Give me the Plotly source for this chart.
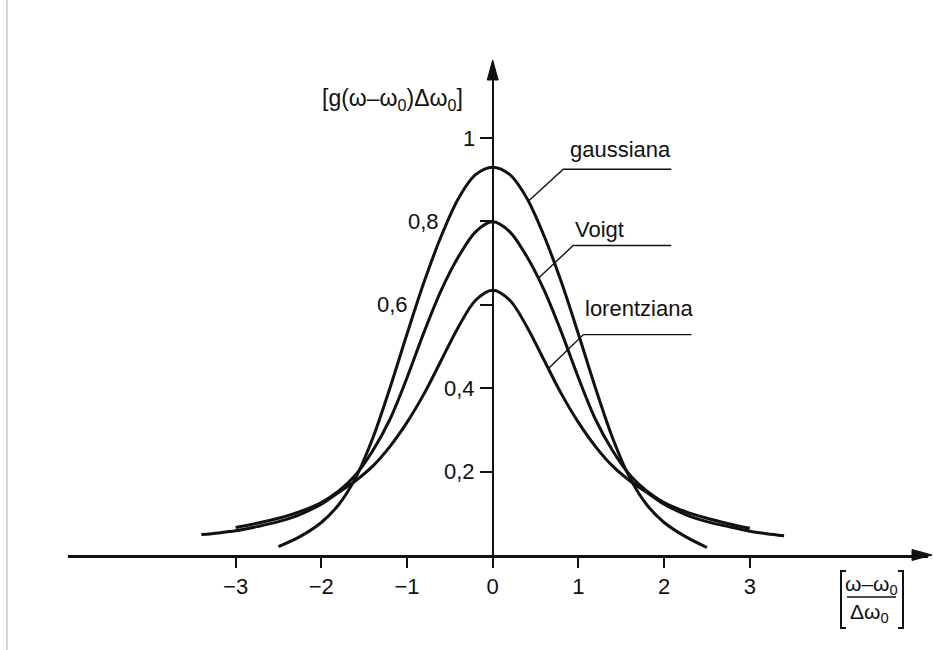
import numpy as np
import plotly.graph_objects as go

# ---------------- data ----------------
x_gauss = [-2.5, -2.25, -2.0, -1.8, -1.6, -1.4, -1.2, -1.0, -0.8, -0.6, -0.4, -0.2, 0.0,
           0.2, 0.4, 0.6, 0.8, 1.0, 1.2, 1.4, 1.6, 1.8, 2.0, 2.25, 2.5]
y_gauss = [0.020, 0.044, 0.078, 0.120, 0.185, 0.280, 0.400, 0.530, 0.655, 0.765, 0.855, 0.912, 0.930,
           0.912, 0.855, 0.765, 0.655, 0.530, 0.400, 0.280, 0.185, 0.120, 0.078, 0.044, 0.018]

x_voigt = [-3.0, -2.75, -2.5, -2.25, -2.0, -1.8, -1.6, -1.4, -1.2, -1.0, -0.8, -0.6, -0.4, -0.2, 0.0,
           0.2, 0.4, 0.6, 0.8, 1.0, 1.2, 1.4, 1.6, 1.8, 2.0, 2.25, 2.5, 2.75, 3.0]
y_voigt = [0.066, 0.076, 0.088, 0.104, 0.126, 0.153, 0.192, 0.250, 0.325, 0.425, 0.535, 0.635, 0.715, 0.775, 0.799,
           0.775, 0.715, 0.635, 0.535, 0.425, 0.325, 0.250, 0.192, 0.153, 0.126, 0.104, 0.088, 0.075, 0.064]

x_lor = [-3.4, -3.2, -3.0, -2.75, -2.5, -2.25, -2.0, -1.8, -1.6, -1.4, -1.2, -1.0, -0.8, -0.6, -0.4, -0.2, 0.0,
         0.2, 0.4, 0.6, 0.8, 1.0, 1.2, 1.4, 1.6, 1.8, 2.0, 2.25, 2.5, 2.75, 3.0, 3.2, 3.4]
y_lor = [0.049, 0.053, 0.058, 0.068, 0.080, 0.097, 0.122, 0.150, 0.178, 0.213, 0.260, 0.318, 0.387, 0.467, 0.547, 0.611, 0.635,
         0.611, 0.547, 0.467, 0.387, 0.318, 0.260, 0.213, 0.178, 0.150, 0.122, 0.097, 0.080, 0.068, 0.057, 0.051, 0.046]

curve_names = ["gaussiana", "Voigt", "lorentziana"]
label_at_x = [0.415, 0.53, 0.65]          # where each leader touches its curve

x_tick_vals = [-3, -2, -1, 0, 1, 2, 3]
x_tick_text = ["\u22123", "\u22122", "\u22121", "0", "1", "2", "3"]
y_tick_vals = [0.2, 0.4, 0.6, 0.8, 1.0]
y_tick_text = ["0,2", "0,4", "0,6", "0,8", "1"]

# ---------------- layout geometry ----------------
W, H = 933, 650
L, R, T, B = 68, 5, 62, 95          # plot area: x 68..928, y 62..555
PW, PH = W - L - R, H - T - B
X0PIX = 492.7                        # pixel of x = 0
XSCALE = 85.7                        # pixels per x unit
YSCALE = 417.0                       # pixels per y unit
xmin = -(X0PIX - L) / XSCALE
xmax = (W - R - X0PIX) / XSCALE
ymax = PH / YSCALE

INK = "#111111"
FONT = "Liberation Sans, Arial, Helvetica, sans-serif"


def pxp(px):   # pixel x -> paper x
    return (px - L) / PW


def pyp(py):   # pixel y -> paper y
    return (H - B - py) / PH


def d2pix(x, y):
    return X0PIX + x * XSCALE, (H - B) - y * YSCALE


def ppath(points, close=False):
    s = "M " + " L ".join(f"{pxp(a)},{pyp(b)}" for a, b in points)
    return s + (" Z" if close else "")


fig = go.Figure()
for xs, ys in [(x_gauss, y_gauss), (x_voigt, y_voigt), (x_lor, y_lor)]:
    fig.add_trace(go.Scatter(x=xs, y=ys, mode="lines",
                             line=dict(color=INK, width=3, shape="spline", smoothing=0.9),
                             hoverinfo="skip", showlegend=False))

shapes = []
annotations = []

# curve labels with leader lines
series = [(x_gauss, y_gauss), (x_voigt, y_voigt), (x_lor, y_lor)]
kinks = [(35, -32, 108), (35, -33, 98), (35, -34, 108)]
text_centers = [(620, 149), (599, 229), (638.5, 308)]
for (xs, ys), name, xa, (dx, dy, hl), (tx, ty) in zip(series, curve_names, label_at_x, kinks, text_centers):
    ya = float(np.interp(xa, xs, ys))
    p0x, p0y = d2pix(xa, ya)
    p1x, p1y = p0x + dx, p0y + dy
    p2x = p1x + hl
    shapes.append(dict(type="path", xref="paper", yref="paper",
                       path=ppath([(p0x, p0y), (p1x, p1y), (p2x, p1y)]),
                       line=dict(color=INK, width=1.4)))
    annotations.append(dict(x=pxp(tx), y=pyp(ty), xref="paper", yref="paper", text=name,
                            showarrow=False, xanchor="center", yanchor="middle",
                            font=dict(family=FONT, size=22, color=INK)))

# y tick labels (offset individually as in the original)
y_label_shift = [-16, -16, -83, -52, -16]
for v, t, s in zip(y_tick_vals, y_tick_text, y_label_shift):
    annotations.append(dict(x=0, y=v, xref="x", yref="y", text=t, showarrow=False,
                            xanchor="right", yanchor="middle", xshift=s,
                            font=dict(family=FONT, size=22, color=INK)))

# axis arrowheads (filled triangles)
shapes.append(dict(type="path", xref="paper", yref="paper",
                   path=ppath([(X0PIX, 60), (X0PIX - 5.5, 80), (X0PIX + 5.5, 80)], close=True),
                   fillcolor=INK, line=dict(color=INK, width=1)))
shapes.append(dict(type="path", xref="paper", yref="paper",
                   path=ppath([(932, 555), (912, 549.5), (912, 560.5)], close=True),
                   fillcolor=INK, line=dict(color=INK, width=1)))

# y-axis title
annotations.append(dict(x=pxp(392.5), y=pyp(100), xref="paper", yref="paper",
                        text="[g(\u03c9\u2013\u03c9<sub>0</sub>)\u0394\u03c9<sub>0</sub>]",
                        showarrow=False, xanchor="center", yanchor="middle",
                        font=dict(family=FONT, size=23, color=INK)))

# x-axis title: bracketed fraction
annotations.append(dict(x=pxp(871), y=pyp(585), xref="paper", yref="paper",
                        text="\u03c9\u2013\u03c9<sub>0</sub>", showarrow=False,
                        xanchor="center", yanchor="middle", font=dict(family=FONT, size=21, color=INK)))
annotations.append(dict(x=pxp(869), y=pyp(613), xref="paper", yref="paper",
                        text="\u0394\u03c9<sub>0</sub>", showarrow=False,
                        xanchor="center", yanchor="middle", font=dict(family=FONT, size=21, color=INK)))
shapes.append(dict(type="line", xref="paper", yref="paper", x0=pxp(847), x1=pxp(896),
                   y0=pyp(597), y1=pyp(597), line=dict(color=INK, width=1.5)))
shapes.append(dict(type="path", xref="paper", yref="paper",
                   path=ppath([(846, 571), (841, 571), (841, 628), (846, 628)]),
                   line=dict(color=INK, width=2)))
shapes.append(dict(type="path", xref="paper", yref="paper",
                   path=ppath([(898, 571), (903, 571), (903, 628), (898, 628)]),
                   line=dict(color=INK, width=2)))

# faint page edge of the scan
shapes.append(dict(type="line", xref="paper", yref="paper", x0=pxp(7), x1=pxp(7),
                   y0=pyp(0), y1=pyp(650), line=dict(color="#c8c8c8", width=1.5)))

fig.update_layout(
    width=W, height=H,
    margin=dict(l=L, r=R, t=T, b=B, pad=0),
    paper_bgcolor="white", plot_bgcolor="white",
    showlegend=False,
    xaxis=dict(range=[xmin, xmax], showgrid=False, zeroline=False,
               showline=True, linecolor=INK, linewidth=2.5,
               ticks="outside", ticklen=10, tickwidth=2, tickcolor=INK,
               tickvals=x_tick_vals, ticktext=x_tick_text,
               tickfont=dict(family=FONT, size=22, color=INK), fixedrange=True),
    yaxis=dict(range=[0, ymax], showgrid=False, zeroline=False,
               anchor="free", position=pxp(X0PIX), side="left",
               showline=True, linecolor=INK, linewidth=2,
               ticks="outside", ticklen=12, tickwidth=2, tickcolor=INK,
               tickvals=y_tick_vals, showticklabels=False, fixedrange=True),
    shapes=shapes,
    annotations=annotations,
)

fig.write_html("out.html")
